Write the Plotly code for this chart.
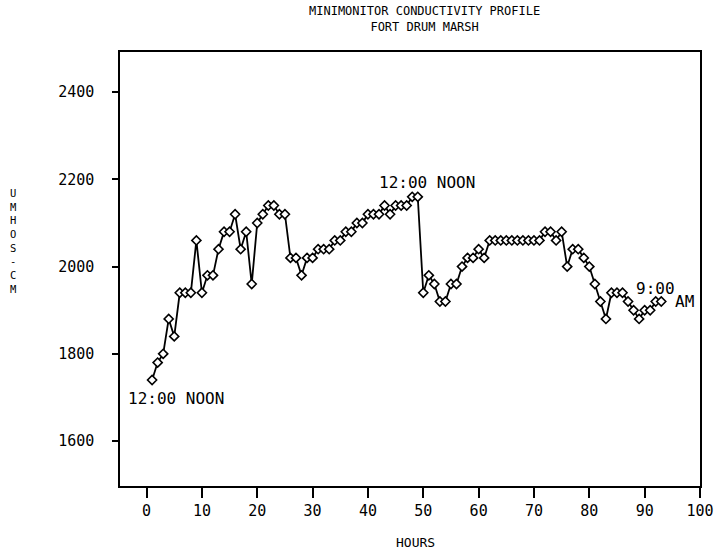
import plotly.graph_objects as go

# Hourly conductivity readings (umhos/cm)
hours = list(range(1, 94))
conductivity = [
    1740, 1780, 1800, 1880, 1840, 1940, 1940, 1940, 2060, 1940,
    1980, 1980, 2040, 2080, 2080, 2120, 2040, 2080, 1960, 2100,
    2120, 2140, 2140, 2120, 2120, 2020, 2020, 1980, 2020, 2020,
    2040, 2040, 2040, 2060, 2060, 2080, 2080, 2100, 2100, 2120,
    2120, 2120, 2140, 2120, 2140, 2140, 2140, 2160, 2160, 1940,
    1980, 1960, 1920, 1920, 1960, 1960, 2000, 2020, 2020, 2040,
    2020, 2060, 2060, 2060, 2060, 2060, 2060, 2060, 2060, 2060,
    2060, 2080, 2080, 2060, 2080, 2000, 2040, 2040, 2020, 2000,
    1960, 1920, 1880, 1940, 1940, 1940, 1920, 1900, 1880, 1900,
    1900, 1920, 1920,
]

x_ticks = [0, 10, 20, 30, 40, 50, 60, 70, 80, 90, 100]
y_ticks = [1600, 1800, 2000, 2200, 2400]

# Time-of-day notes placed on the curve
notes = [
    ("12:00 NOON", 5.3, 1698),
    ("12:00 NOON", 50.6, 2192),
    ("9:00", 92.0, 1950),
    ("AM", 97.2, 1920),
]

title_lines = ["MINIMONITOR CONDUCTIVITY PROFILE", "FORT DRUM MARSH"]
y_title = "UMHOS-CM"
x_title = "HOURS"

MONO = "DejaVu Sans Mono"

fig = go.Figure()
fig.add_trace(go.Scatter(
    x=hours, y=conductivity, mode="lines+markers",
    line=dict(color="black", width=1.8),
    marker=dict(symbol="diamond", size=7, color="white",
                line=dict(color="black", width=1.6)),
    showlegend=False,
))

annotations = []
for text, hx, vy in notes:
    annotations.append(dict(
        x=hx, y=vy, xref="x", yref="y", text=text, showarrow=False,
        font=dict(family=MONO, size=16, color="black"),
        xanchor="center", yanchor="middle",
    ))

# Two-line heading above the frame
annotations.append(dict(
    x=0.525, y=1.076, xref="paper", yref="paper",
    text="<br>".join(title_lines), showarrow=False,
    font=dict(family=MONO, size=12, color="black"),
    xanchor="center", yanchor="middle",
))

# Stacked letters for the y-axis title
annotations.append(dict(
    x=-0.1837, y=0.565, xref="paper", yref="paper",
    text="<br>".join(y_title), showarrow=False,
    font=dict(family=MONO, size=10.5, color="black"),
    xanchor="center", yanchor="middle",
))

annotations.append(dict(
    x=0.51, y=-0.131, xref="paper", yref="paper", text=x_title,
    showarrow=False, font=dict(family=MONO, size=13, color="black"),
    xanchor="center", yanchor="middle",
))

fig.update_layout(
    width=726, height=557,
    margin=dict(l=120, r=18, t=52, b=71),
    paper_bgcolor="white", plot_bgcolor="white",
    annotations=annotations,
    font=dict(family=MONO, color="black"),
)
fig.update_xaxes(
    range=[-4.8, 100], tickvals=x_ticks, ticktext=[str(v) for v in x_ticks],
    showgrid=False, zeroline=False, showline=True, linecolor="black",
    linewidth=1.5, mirror=True, ticks="outside", ticklen=10, tickwidth=1.5,
    tickcolor="black", tickfont=dict(family=MONO, size=15, color="black"),
    ticklabelstandoff=0,
)
fig.update_yaxes(
    range=[1497, 2492], tickvals=y_ticks, ticktext=[str(v) for v in y_ticks],
    showgrid=False, zeroline=False, showline=True, linecolor="black",
    linewidth=1.5, mirror=True, ticks="outside", ticklen=6, tickwidth=1.5,
    tickcolor="black", tickfont=dict(family=MONO, size=15, color="black"),
    ticklabelstandoff=15,
)

fig.write_html("out.html")
